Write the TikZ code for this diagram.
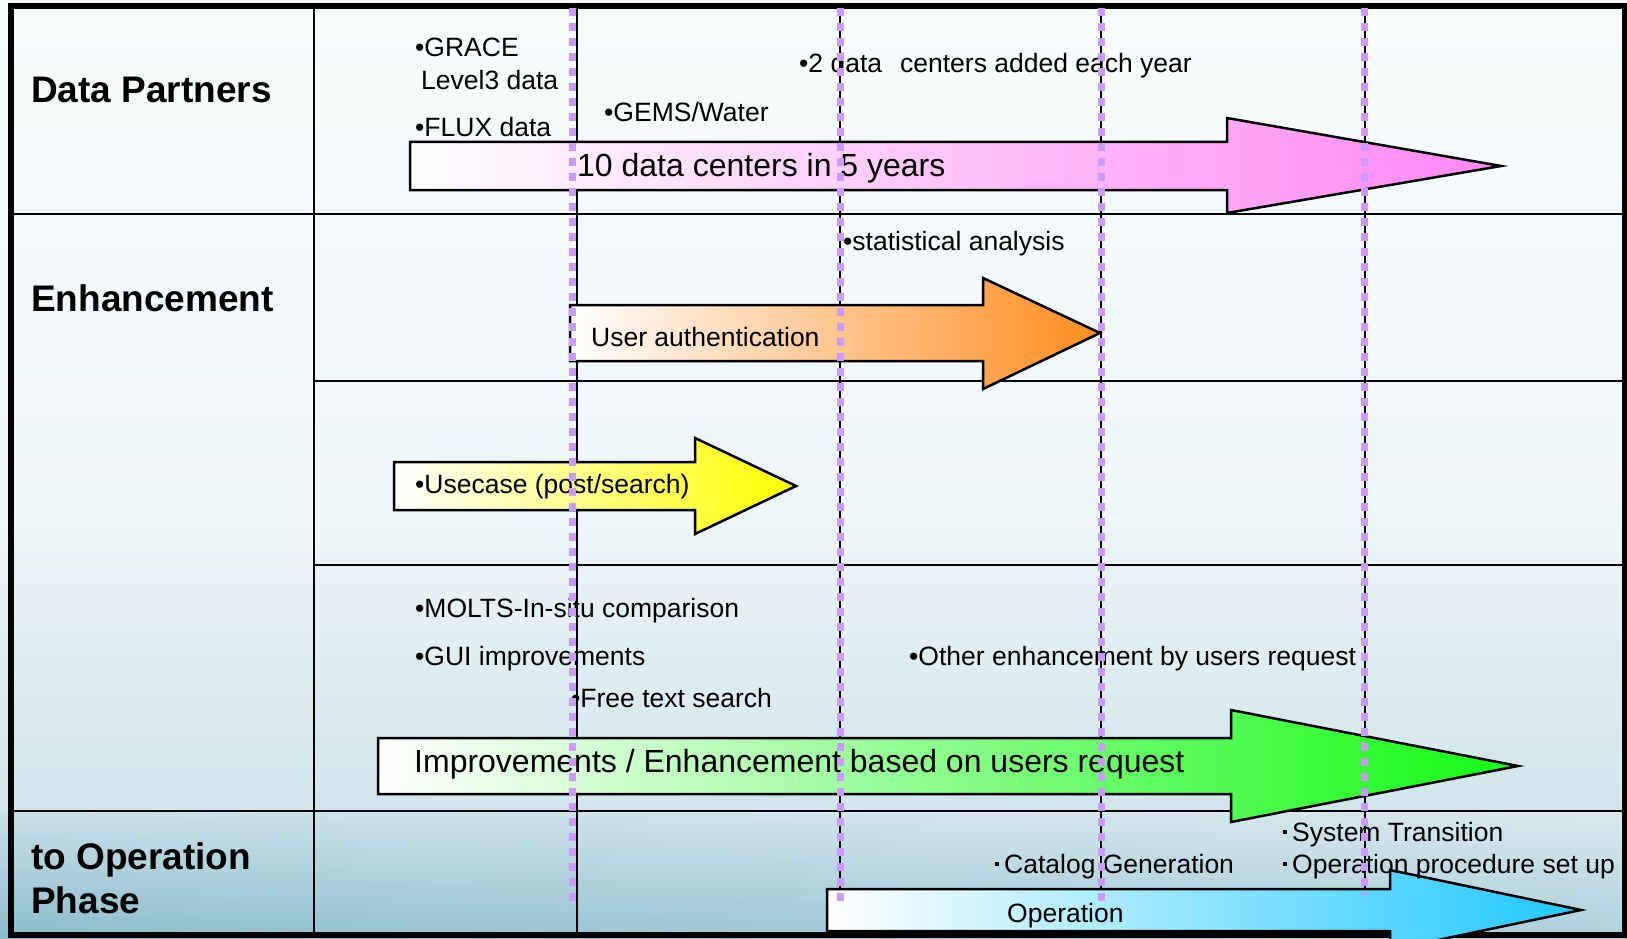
\documentclass[tikz,border=0pt]{standalone}
\usepackage{fontspec}
\setmainfont{Liberation Sans}
\usetikzlibrary{fadings}
\tikzfading[name=opaqueright, left color=transparent!100, right color=transparent!0]
\definecolor{bgA}{RGB}{248,252,253}
\definecolor{bgB}{RGB}{239,246,249}
\definecolor{bgC}{RGB}{208,229,236}
\definecolor{bgD}{RGB}{200,224,232}
\definecolor{bgE}{RGB}{140,189,204}
\definecolor{lav}{RGB}{204,153,255}
\definecolor{pinkE}{RGB}{255,135,245}
\definecolor{orangeE}{RGB}{255,140,30}
\definecolor{yellowE}{RGB}{255,255,0}
\definecolor{greenE}{RGB}{20,250,20}
\definecolor{blueE}{RGB}{30,200,255}
\tikzset{
  gridline/.style={line width=2pt, black},
  framebox/.style={line width=6pt, black},
  purpledash/.style={line width=7pt, color=lav, dash pattern=on 8pt off 7pt},
  blockarrow/.style={draw=black, line width=2.5pt, line join=miter},
  txt/.style={anchor=base west, inner sep=0pt, font=\fontsize{26.5}{30}\selectfont},
  bigtxt/.style={anchor=base west, inner sep=0pt, font=\fontsize{32}{36}\selectfont},
  headtxt/.style={anchor=base west, inner sep=0pt, font=\fontsize{37}{42}\selectfont\bfseries},
}
\newcommand\sqdot{\raisebox{7pt}{\rule{4pt}{4pt}}\hspace{5pt}}
\begin{document}
\begin{tikzpicture}[x=1pt,y=-1pt]
\useasboundingbox (0,0) rectangle (1627,939);
\clip (0,0) rectangle (1627,939);
% background
\shade[top color=bgA, bottom color=bgB] (0,0) rectangle (1627,501);
\shade[top color=bgB, bottom color=bgC] (0,500) rectangle (1627,812);
\shade[top color=bgD, bottom color=bgE] (0,811) rectangle (1627,939);
\fill[white, fill opacity=0.3, path fading=opaqueright] (0,812) rectangle (1627,939);
% grid
\draw[gridline] (314,6) -- (314,934);
\draw[gridline] (11,214) -- (1625,214);
\draw[gridline] (314,381) -- (1625,381);
\draw[gridline] (314,565) -- (1625,565);
\draw[gridline] (11,811) -- (1625,811);
\draw[gridline] (577,6) -- (577,934);
\draw[gridline] (840,6) -- (840,934);
\draw[gridline] (1101,6) -- (1101,934);
\draw[gridline] (1364.5,6) -- (1364.5,934);
\draw[framebox] (11,6) rectangle (1625,934.5);
% arrows
\shadedraw[blockarrow, left color=white, right color=pinkE]
  (410,142) -- (1227,142) -- (1227,118) -- (1501,166) -- (1227,213) -- (1227,190) -- (410,190) -- cycle;
\shadedraw[blockarrow, left color=white, right color=orangeE]
  (570,305) -- (983,305) -- (983,278) -- (1100,333) -- (983,389) -- (983,361) -- (570,361) -- cycle;
\shadedraw[blockarrow, left color=white, right color=yellowE]
  (394,462) -- (695,462) -- (695,438) -- (796,486) -- (695,534) -- (695,510) -- (394,510) -- cycle;
\shadedraw[blockarrow, left color=white, right color=greenE]
  (378,738) -- (1231,738) -- (1231,710) -- (1518,766) -- (1231,822) -- (1231,794) -- (378,794) -- cycle;
\shadedraw[blockarrow, left color=white, right color=blueE]
  (827,889) -- (1390,889) -- (1390,870) -- (1581,910) -- (1390,950) -- (1390,931) -- (827,931) -- cycle;
% row labels
\node[headtxt] (dp) at (31,103) {Data Partners};
\node[headtxt] (enh) at (31,311) {Enhancement};
\node[headtxt] (toop) at (31,869) {to Operation};
\node[headtxt] (phase) at (31,913) {Phase};
% texts
\node[txt] (grace) at (415,57) {•GRACE};
\node[txt] (level3) at (421,90) {Level3 data};
\node[txt] (flux) at (415,137) {•FLUX data};
\node[txt] (gems) at (604,122) {•GEMS/Water};
\node[txt] (twodc) at (799,73) {•2 data\hspace{18pt}centers added each year};
\node[bigtxt] (tendc) at (577,176) {10 data centers in 5 years};
\node[txt] (stat) at (843,250) {•statistical analysis};
\node[txt] (auth) at (591,346) {User authentication};
\node[txt] (usecase) at (415,493) {•Usecase (post/search)};
\node[txt] (molts) at (415,617) {•MOLTS-In-situ comparison};
\node[txt] (gui) at (415,665) {•GUI improvements};
\node[txt] (free) at (571,707) {•Free text search};
\node[txt] (other) at (909,665) {•Other enhancement by users request};
\node[bigtxt] (impr) at (414,772) {Improvements / Enhancement based on users request};
\node[txt] (systr) at (1283,841) {\sqdot System Transition};
\node[txt] (opproc) at (1283,873) {\sqdot Operation procedure set up};
\node[txt] (catalog) at (995,873) {\sqdot Catalog Generation};
\node[txt] (operation) at (1007,922) {Operation};
% purple dashed year lines
\draw[purpledash] (572.5,8) -- (572.5,908);
\draw[purpledash] (840,8) -- (840,908);
\draw[purpledash] (1101,8) -- (1101,908);
\draw[purpledash] (1364.5,8) -- (1364.5,895);
\end{tikzpicture}
\end{document}
